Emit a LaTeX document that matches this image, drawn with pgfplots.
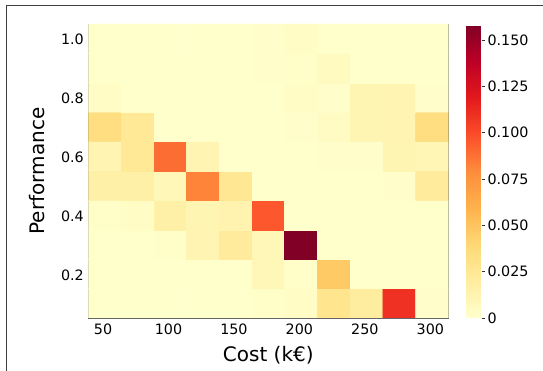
\documentclass[border=0pt]{standalone}
\usepackage{pgfplots}
\pgfplotsset{compat=1.18}
\usepackage{fontspec}
\setmainfont{DejaVu Sans}
\pgfplotsset{colormap={YlOrRd}{rgb255=(255,255,204) rgb255=(255,237,160) rgb255=(254,217,118) rgb255=(254,178,76) rgb255=(253,141,60) rgb255=(252,78,42) rgb255=(227,26,28) rgb255=(189,0,38) rgb255=(128,0,38)}}
\begin{document}
\begin{tikzpicture}
\useasboundingbox (0,0) rectangle (543pt,371pt);
\draw[black!75, line width=0.9pt] (6pt,0) -- (6pt,366pt) -- (543pt,366pt);
\begin{axis}[
  at={(88.3pt,53pt)}, anchor=south west,
  scale only axis, width=360pt, height=294pt,
  xmin=38.75, xmax=313.75, ymin=0.0535, ymax=1.0535,
  xtick={50,100,150,200,250,300}, ytick={0.2,0.4,0.6,0.8,1.0},
  yticklabel style={/pgf/number format/fixed, /pgf/number format/fixed zerofill, /pgf/number format/precision=1},
  /pgf/number format/assume math mode=true,
  major tick length=0pt,
  tick label style={font=\fontsize{14.3}{16}\selectfont},
  xticklabel style={yshift=-2pt},
  yticklabel style={xshift=-1pt},
  xlabel={Cost (k€)}, ylabel={Performance},
  label style={font=\fontsize{20}{24}\selectfont},
  xlabel style={at={(axis description cs:0.5,-0.125)}, anchor=center},
  ylabel style={at={(axis description cs:-0.142,0.5)}, anchor=center},
  axis line style={black!60},
  colormap name=YlOrRd,
  point meta min=0, point meta max=0.158,
  colorbar,
  colorbar style={
    at={(parent axis.north east)}, anchor=north west, xshift=9.7pt, yshift=-1pt,
    scale only axis, width=15pt, height=293pt,
    axis line style={draw=none},
    ytick={0,0.025,0.05,0.075,0.1,0.125,0.15},
    yticklabels={0,0.025,0.050,0.075,0.100,0.125,0.150},
    ytick pos=right, tick align=outside, major tick length=3.5pt,
    tick style={black!80, line width=0.6pt},
    yticklabel style={font=\fontsize{14.3}{16}\selectfont, xshift=-1pt},
  },
]
\addplot[matrix plot*, mesh/cols=11, point meta=explicit] table[meta=c] {
x y c
51.25 0.1035 0
76.25 0.1035 0
101.25 0.1035 0
126.25 0.1035 0
151.25 0.1035 0
176.25 0.1035 0.002
201.25 0.1035 0.003
226.25 0.1035 0.028
251.25 0.1035 0.020
276.25 0.1035 0.110
301.25 0.1035 0.001
51.25 0.2035 0
76.25 0.2035 0
101.25 0.2035 0
126.25 0.2035 0
151.25 0.2035 0
176.25 0.2035 0.009
201.25 0.2035 0.002
226.25 0.2035 0.047
251.25 0.2035 0
276.25 0.2035 0
301.25 0.2035 0
51.25 0.3035 0
76.25 0.3035 0
101.25 0.3035 0.002
126.25 0.3035 0.012
151.25 0.3035 0.022
176.25 0.3035 0.009
201.25 0.3035 0.158
226.25 0.3035 0
251.25 0.3035 0
276.25 0.3035 0
301.25 0.3035 0
51.25 0.4035 0.002
76.25 0.4035 0.003
101.25 0.4035 0.016
126.25 0.4035 0.011
151.25 0.4035 0.013
176.25 0.4035 0.096
201.25 0.4035 0
226.25 0.4035 0
251.25 0.4035 0
276.25 0.4035 0
301.25 0.4035 0
51.25 0.5035 0.016
76.25 0.5035 0.016
101.25 0.5035 0.009
126.25 0.5035 0.082
151.25 0.5035 0.026
176.25 0.5035 0
201.25 0.5035 0
226.25 0.5035 0
251.25 0.5035 0
276.25 0.5035 0.001
301.25 0.5035 0.022
51.25 0.6035 0.012
76.25 0.6035 0.024
101.25 0.6035 0.089
126.25 0.6035 0.012
151.25 0.6035 0
176.25 0.6035 0
201.25 0.6035 0
226.25 0.6035 0.001
251.25 0.6035 0.001
276.25 0.6035 0.011
301.25 0.6035 0.010
51.25 0.7035 0.035
76.25 0.7035 0.024
101.25 0.7035 0
126.25 0.7035 0
151.25 0.7035 0
176.25 0.7035 0
201.25 0.7035 0.001
226.25 0.7035 0.004
251.25 0.7035 0.011
276.25 0.7035 0.012
301.25 0.7035 0.035
51.25 0.8035 0.003
76.25 0.8035 0
101.25 0.8035 0
126.25 0.8035 0
151.25 0.8035 0
176.25 0.8035 0
201.25 0.8035 0.003
226.25 0.8035 0.001
251.25 0.8035 0.011
276.25 0.8035 0.012
301.25 0.8035 0.001
51.25 0.9035 0
76.25 0.9035 0
101.25 0.9035 0
126.25 0.9035 0
151.25 0.9035 0
176.25 0.9035 0.001
201.25 0.9035 0.002
226.25 0.9035 0.006
251.25 0.9035 0
276.25 0.9035 0
301.25 0.9035 0
51.25 1.0035 0
76.25 1.0035 0
101.25 1.0035 0
126.25 1.0035 0
151.25 1.0035 0
176.25 1.0035 0.001
201.25 1.0035 0.003
226.25 1.0035 0
251.25 1.0035 0
276.25 1.0035 0
301.25 1.0035 0
};
\end{axis}
\end{tikzpicture}
\end{document}
